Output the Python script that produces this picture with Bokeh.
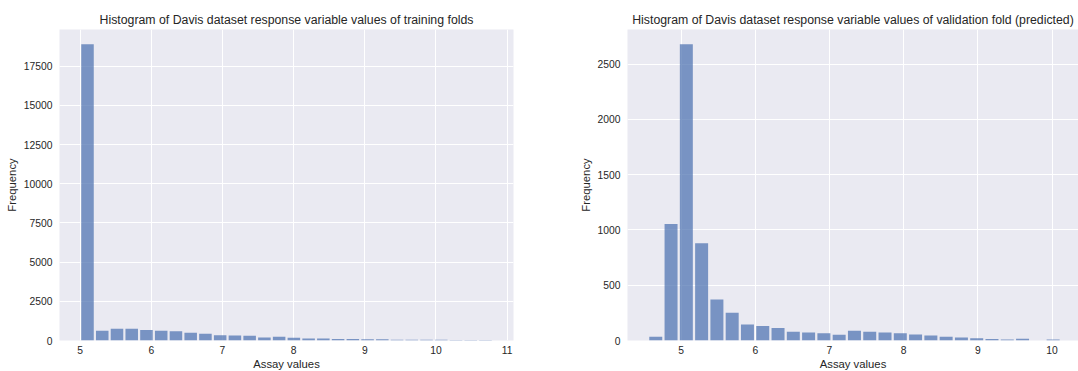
from bokeh.plotting import figure
from bokeh.layouts import row
from bokeh.models import Range1d, FixedTicker
from bokeh.embed import file_html
from bokeh.resources import INLINE
import numpy as np

# ---- data ----
train_counts = [18900, 615, 755, 755, 670, 625, 585, 490, 435, 330, 325, 300, 195, 235,
                175, 135, 130, 90, 90, 85, 85, 50, 45, 40, 40, 35, 35, 30]
train_lo, train_hi = 5.0, 10.8
val_counts = [35, 1055, 2680, 880, 370, 252, 145, 132, 112, 80, 72, 66, 52, 88, 80, 73,
              66, 54, 46, 34, 27, 20, 14, 9, 15, 0, 8]
val_lo, val_hi = 4.556, 10.117

train_xticks = [5, 6, 7, 8, 9, 10, 11]
train_yticks = [0, 2500, 5000, 7500, 10000, 12500, 15000, 17500]
val_xticks = [5, 6, 7, 8, 9, 10]
val_yticks = [0, 500, 1000, 1500, 2000, 2500]

train_title = "Histogram of Davis dataset response variable values of training folds"
val_title = "Histogram of Davis dataset response variable values of validation fold (predicted)"
x_label = "Assay values"
y_label = "Frequency"

FONT = "Liberation Sans"
TXT = "#262626"


def make(counts, lo, hi, xr, yr, xticks, yticks, title, fw, bl, br):
    n = len(counts)
    edges = np.linspace(lo, hi, n + 1)
    w = edges[1] - edges[0]
    centers = (edges[:-1] + edges[1:]) / 2
    p = figure(frame_width=fw, frame_height=311, min_border_left=bl, min_border_right=br,
               min_border_top=29, min_border_bottom=31,
               x_range=Range1d(*xr), y_range=Range1d(*yr),
               output_backend="svg", toolbar_location=None, title=title)
    p.vbar(x=centers, width=0.85 * w, top=counts, bottom=0,
           fill_color="#4C72B0", fill_alpha=0.72, line_color=None)
    p.background_fill_color = "#EAEAF2"
    p.border_fill_color = "white"
    p.outline_line_color = None
    p.xaxis.ticker = FixedTicker(ticks=xticks)
    p.yaxis.ticker = FixedTicker(ticks=yticks)
    for g in (p.xgrid, p.ygrid):
        g.grid_line_color = "white"
        g.grid_line_width = 1
    for ax in (p.xaxis, p.yaxis):
        ax.axis_line_color = None
        ax.major_tick_line_color = None
        ax.minor_tick_line_color = None
        ax.major_tick_out = 0
        ax.major_tick_in = 0
        ax.minor_tick_out = 0
        ax.minor_tick_in = 0
        ax.major_label_text_font = FONT
        ax.major_label_text_font_size = "10.3px"
        ax.major_label_text_color = TXT
        ax.axis_label_text_font = FONT
        ax.axis_label_text_font_size = "11.3px"
        ax.axis_label_text_font_style = "normal"
        ax.axis_label_text_color = TXT
    p.xaxis.axis_label = x_label
    p.yaxis.axis_label = y_label
    p.xaxis.major_label_standoff = 5
    p.xaxis.axis_label_standoff = 1
    p.yaxis.major_label_standoff = 7
    p.yaxis.axis_label_standoff = 3
    p.title.text_font = FONT
    p.title.text_font_size = "12.3px"
    p.title.text_font_style = "normal"
    p.title.text_color = TXT
    p.title.align = "center"
    p.title.standoff = 5
    return p


p1 = make(train_counts, train_lo, train_hi, (4.71, 11.09), (0, 19845),
          train_xticks, train_yticks, train_title, 454, 59, 10)
p2 = make(val_counts, val_lo, val_hi, (4.278, 10.356), (0, 2814),
          val_xticks, val_yticks, val_title, 451, 104, 0)

layout = row(p1, p2)
open("out.html", "w").write(file_html(layout, INLINE))
